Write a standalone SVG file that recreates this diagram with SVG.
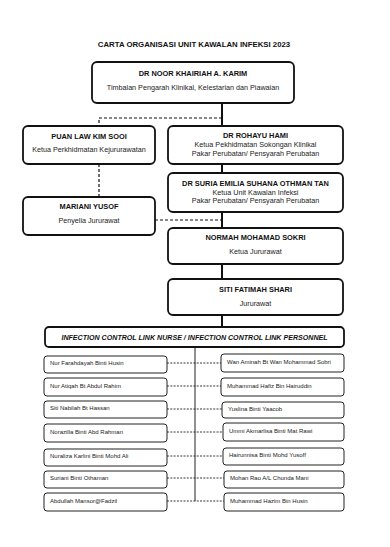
<svg xmlns="http://www.w3.org/2000/svg" width="390" height="547" viewBox="0 0 390 547">
<style>
text{font-family:"Liberation Sans",Arial,sans-serif;fill:#111}
.t{font-weight:bold;font-size:7.8px;text-anchor:middle}
.n{font-weight:bold;font-size:7.4px;text-anchor:middle}
.s{font-size:7.2px;text-anchor:middle;fill:#222}
.m{font-size:6px;fill:#222}
.big{fill:#fff;stroke:#111;stroke-width:1.8}
.sm{fill:#fff;stroke:#222;stroke-width:1}
.main{stroke:#111;stroke-width:2;fill:none}
.dash{stroke:#111;stroke-width:1.2;stroke-dasharray:3 2;fill:none}
.dsm{stroke:#222;stroke-width:0.9;stroke-dasharray:2 1.3;fill:none}
</style>
<rect width="390" height="547" fill="#fff"/>
<text class="t" x="194" y="47">CARTA ORGANISASI UNIT KAWALAN INFEKSI 2023</text>
<g id="connectors">
<path class="main" d="M222 103V327"/>
<path class="dash" d="M222 118H99V126"/>
<path class="dash" d="M99 164V197"/>
<path class="dash" d="M155 220H222"/>
<path stroke="#222" stroke-width="1" d="M195 347V501"/>
<path class="dsm" d="M167 363H221M167 386H221M167 409H222M167 432H223M167 456H223M167 478H224M167 501H224"/>
</g>
<g id="n1"><rect class="big" x="92" y="62" width="202" height="41" rx="5"/>
<text class="n" x="193" y="75.5">DR NOOR KHAIRIAH A. KARIM</text>
<text class="s" x="193" y="89.5">Timbalan Pengarah Klinikal, Kelestarian dan Piawaian</text></g>
<g id="n2"><rect class="big" x="23" y="126" width="132" height="38" rx="5"/>
<text class="n" x="89" y="138.5">PUAN LAW KIM SOOI</text>
<text class="s" x="89" y="151.5">Ketua Perkhidmatan Kejururawatan</text></g>
<g id="n3"><rect class="big" x="168" y="126" width="175" height="38" rx="5"/>
<text class="n" x="255.5" y="137.5">DR ROHAYU HAMI</text>
<text class="s" x="255.5" y="146.5">Ketua Pekhidmatan Sokongan Klinikal</text>
<text class="s" x="255.5" y="155.5">Pakar Perubatan/ Pensyarah Perubatan</text></g>
<g id="n4"><rect class="big" x="168" y="173" width="175" height="39" rx="5"/>
<text class="n" x="255.5" y="185.5">DR SURIA EMILIA SUHANA OTHMAN TAN</text>
<text class="s" x="255.5" y="194.5">Ketua Unit Kawalan Infeksi</text>
<text class="s" x="255.5" y="203">Pakar Perubatan/ Pensyarah Perubatan</text></g>
<g id="n5"><rect class="big" x="23" y="197" width="132" height="38" rx="5"/>
<text class="n" x="89" y="208.5">MARIANI YUSOF</text>
<text class="s" x="89" y="222.5">Penyelia Jururawat</text></g>
<g id="n6"><rect class="big" x="168" y="228" width="175" height="36" rx="5"/>
<text class="n" x="255.5" y="239.5">NORMAH MOHAMAD SOKRI</text>
<text class="s" x="255.5" y="253.5">Ketua Jururawat</text></g>
<g id="n7"><rect class="big" x="168" y="279" width="175" height="36" rx="5"/>
<text class="n" x="255.5" y="291.5">SITI FATIMAH SHARI</text>
<text class="s" x="255.5" y="305.5">Jururawat</text></g>
<g id="icl"><rect class="big" x="45" y="327" width="299" height="20" rx="4"/>
<text class="n" style="font-style:italic;font-size:7.1px" x="194.5" y="339.6">INFECTION CONTROL LINK NURSE / INFECTION CONTROL LINK PERSONNEL</text></g>
<g id="l1"><rect class="sm" x="44" y="356" width="123" height="17" rx="3"/><text class="m" x="50" y="365.2">Nur Farahdayah Binti Husin</text></g>
<g id="l2"><rect class="sm" x="44" y="378" width="123" height="18" rx="3"/><text class="m" x="50" y="388.2">Nur Atiqah Bt Abdul Rahim</text></g>
<g id="l3"><rect class="sm" x="44" y="401" width="123" height="17" rx="3"/><text class="m" x="50" y="410.2">Siti Nabilah Bt Hassan</text></g>
<g id="l4"><rect class="sm" x="44" y="424" width="123" height="18" rx="3"/><text class="m" x="50" y="434.2">Norazilla Binti Abd Rahman</text></g>
<g id="l5"><rect class="sm" x="44" y="449" width="123" height="17" rx="3"/><text class="m" x="50" y="458.2">Nuraliza Karlini Binti Mohd Ali</text></g>
<g id="l6"><rect class="sm" x="44" y="471" width="123" height="17" rx="3"/><text class="m" x="50" y="480.2">Suriani Binti Othaman</text></g>
<g id="l7"><rect class="sm" x="44" y="493" width="123" height="18" rx="3"/><text class="m" x="50" y="503.2">Abdullah Mansor@Fadzil</text></g>
<g id="r1"><rect class="sm" x="221" y="354" width="123" height="18" rx="3"/><text class="m" x="227" y="364.2">Wan Aminah Bt Wan Mohammad Sobri</text></g>
<g id="r2"><rect class="sm" x="221" y="378" width="123" height="18" rx="3"/><text class="m" x="227" y="387.7">Muhammad Hafiz Bin Hairuddin</text></g>
<g id="r3"><rect class="sm" x="222" y="402" width="122" height="16" rx="3"/><text class="m" x="228" y="411.2">Yuslina Binti Yaacob</text></g>
<g id="r4"><rect class="sm" x="223" y="423" width="121" height="18" rx="3"/><text class="m" x="229" y="433.2">Ummi Akmarlisa Binti Mat Rawi</text></g>
<g id="r5"><rect class="sm" x="223" y="448" width="121" height="17" rx="3"/><text class="m" x="229" y="457.2">Hairunnisa Binti Mohd Yusoff</text></g>
<g id="r6"><rect class="sm" x="224" y="471" width="120" height="17" rx="3"/><text class="m" x="230" y="480.2">Mohan Rao A/L Chunda Mani</text></g>
<g id="r7"><rect class="sm" x="224" y="493" width="120" height="18" rx="3"/><text class="m" x="230" y="503.2">Muhammad Hazim Bin Husin</text></g>
</svg>
